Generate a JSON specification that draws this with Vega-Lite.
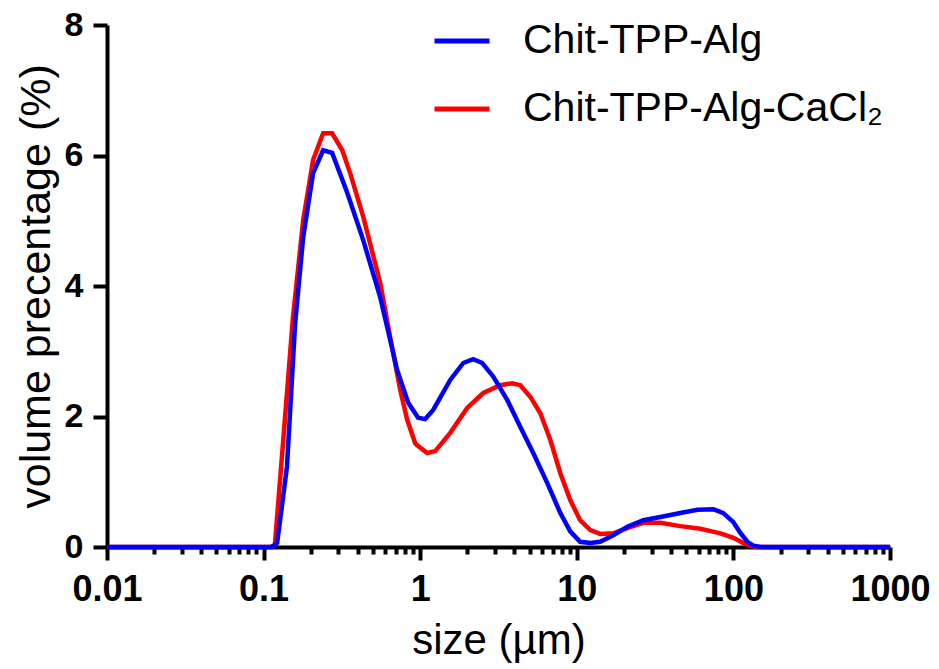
{
  "$schema": "https://vega.github.io/schema/vega-lite/v6.json",
  "autosize": "none",
  "width": 783,
  "height": 522,
  "padding": {"left": 107, "top": 25, "right": 49, "bottom": 122},
  "background": "white",
  "config": {"view": {"stroke": null}, "font": "Liberation Sans"},
  "datasets": {
    "curves": [
      {"size": 0.01, "vol": 0, "sample": "Chit-TPP-Alg"},
      {"size": 0.113, "vol": 0, "sample": "Chit-TPP-Alg"},
      {"size": 0.122, "vol": 0.06, "sample": "Chit-TPP-Alg"},
      {"size": 0.141, "vol": 1.23, "sample": "Chit-TPP-Alg"},
      {"size": 0.159, "vol": 3.43, "sample": "Chit-TPP-Alg"},
      {"size": 0.179, "vol": 4.75, "sample": "Chit-TPP-Alg"},
      {"size": 0.207, "vol": 5.73, "sample": "Chit-TPP-Alg"},
      {"size": 0.24, "vol": 6.08, "sample": "Chit-TPP-Alg"},
      {"size": 0.274, "vol": 6.04, "sample": "Chit-TPP-Alg"},
      {"size": 0.342, "vol": 5.43, "sample": "Chit-TPP-Alg"},
      {"size": 0.433, "vol": 4.7, "sample": "Chit-TPP-Alg"},
      {"size": 0.555, "vol": 3.83, "sample": "Chit-TPP-Alg"},
      {"size": 0.713, "vol": 2.71, "sample": "Chit-TPP-Alg"},
      {"size": 0.838, "vol": 2.21, "sample": "Chit-TPP-Alg"},
      {"size": 0.97, "vol": 1.98, "sample": "Chit-TPP-Alg"},
      {"size": 1.076, "vol": 1.96, "sample": "Chit-TPP-Alg"},
      {"size": 1.211, "vol": 2.1, "sample": "Chit-TPP-Alg"},
      {"size": 1.555, "vol": 2.56, "sample": "Chit-TPP-Alg"},
      {"size": 1.884, "vol": 2.82, "sample": "Chit-TPP-Alg"},
      {"size": 2.18, "vol": 2.88, "sample": "Chit-TPP-Alg"},
      {"size": 2.49, "vol": 2.82, "sample": "Chit-TPP-Alg"},
      {"size": 2.93, "vol": 2.61, "sample": "Chit-TPP-Alg"},
      {"size": 3.6, "vol": 2.25, "sample": "Chit-TPP-Alg"},
      {"size": 4.36, "vol": 1.84, "sample": "Chit-TPP-Alg"},
      {"size": 5.27, "vol": 1.44, "sample": "Chit-TPP-Alg"},
      {"size": 6.48, "vol": 0.98, "sample": "Chit-TPP-Alg"},
      {"size": 7.85, "vol": 0.52, "sample": "Chit-TPP-Alg"},
      {"size": 9.08, "vol": 0.24, "sample": "Chit-TPP-Alg"},
      {"size": 10.5, "vol": 0.08, "sample": "Chit-TPP-Alg"},
      {"size": 12.2, "vol": 0.06, "sample": "Chit-TPP-Alg"},
      {"size": 14.1, "vol": 0.08, "sample": "Chit-TPP-Alg"},
      {"size": 17.1, "vol": 0.18, "sample": "Chit-TPP-Alg"},
      {"size": 21.0, "vol": 0.31, "sample": "Chit-TPP-Alg"},
      {"size": 26.6, "vol": 0.41, "sample": "Chit-TPP-Alg"},
      {"size": 34.2, "vol": 0.46, "sample": "Chit-TPP-Alg"},
      {"size": 45.8, "vol": 0.52, "sample": "Chit-TPP-Alg"},
      {"size": 58.9, "vol": 0.57, "sample": "Chit-TPP-Alg"},
      {"size": 74.5, "vol": 0.58, "sample": "Chit-TPP-Alg"},
      {"size": 86.3, "vol": 0.52, "sample": "Chit-TPP-Alg"},
      {"size": 100, "vol": 0.38, "sample": "Chit-TPP-Alg"},
      {"size": 111, "vol": 0.21, "sample": "Chit-TPP-Alg"},
      {"size": 123, "vol": 0.08, "sample": "Chit-TPP-Alg"},
      {"size": 134, "vol": 0.02, "sample": "Chit-TPP-Alg"},
      {"size": 150, "vol": 0, "sample": "Chit-TPP-Alg"},
      {"size": 1000, "vol": 0, "sample": "Chit-TPP-Alg"},
      {"size": 0.01, "vol": 0, "sample": "Chit-TPP-Alg-CaCl₂"},
      {"size": 0.11, "vol": 0, "sample": "Chit-TPP-Alg-CaCl₂"},
      {"size": 0.118, "vol": 0.03, "sample": "Chit-TPP-Alg-CaCl₂"},
      {"size": 0.133, "vol": 1.59, "sample": "Chit-TPP-Alg-CaCl₂"},
      {"size": 0.154, "vol": 3.52, "sample": "Chit-TPP-Alg-CaCl₂"},
      {"size": 0.179, "vol": 5.01, "sample": "Chit-TPP-Alg-CaCl₂"},
      {"size": 0.207, "vol": 5.93, "sample": "Chit-TPP-Alg-CaCl₂"},
      {"size": 0.24, "vol": 6.34, "sample": "Chit-TPP-Alg-CaCl₂"},
      {"size": 0.274, "vol": 6.34, "sample": "Chit-TPP-Alg-CaCl₂"},
      {"size": 0.318, "vol": 6.08, "sample": "Chit-TPP-Alg-CaCl₂"},
      {"size": 0.357, "vol": 5.73, "sample": "Chit-TPP-Alg-CaCl₂"},
      {"size": 0.433, "vol": 5.06, "sample": "Chit-TPP-Alg-CaCl₂"},
      {"size": 0.555, "vol": 4.05, "sample": "Chit-TPP-Alg-CaCl₂"},
      {"size": 0.643, "vol": 3.22, "sample": "Chit-TPP-Alg-CaCl₂"},
      {"size": 0.745, "vol": 2.41, "sample": "Chit-TPP-Alg-CaCl₂"},
      {"size": 0.826, "vol": 1.95, "sample": "Chit-TPP-Alg-CaCl₂"},
      {"size": 0.929, "vol": 1.59, "sample": "Chit-TPP-Alg-CaCl₂"},
      {"size": 0.957, "vol": 1.56, "sample": "Chit-TPP-Alg-CaCl₂"},
      {"size": 1.109, "vol": 1.44, "sample": "Chit-TPP-Alg-CaCl₂"},
      {"size": 1.247, "vol": 1.47, "sample": "Chit-TPP-Alg-CaCl₂"},
      {"size": 1.555, "vol": 1.75, "sample": "Chit-TPP-Alg-CaCl₂"},
      {"size": 1.995, "vol": 2.13, "sample": "Chit-TPP-Alg-CaCl₂"},
      {"size": 2.53, "vol": 2.36, "sample": "Chit-TPP-Alg-CaCl₂"},
      {"size": 3.24, "vol": 2.48, "sample": "Chit-TPP-Alg-CaCl₂"},
      {"size": 3.87, "vol": 2.51, "sample": "Chit-TPP-Alg-CaCl₂"},
      {"size": 4.36, "vol": 2.48, "sample": "Chit-TPP-Alg-CaCl₂"},
      {"size": 5.05, "vol": 2.3, "sample": "Chit-TPP-Alg-CaCl₂"},
      {"size": 5.85, "vol": 2.05, "sample": "Chit-TPP-Alg-CaCl₂"},
      {"size": 6.78, "vol": 1.64, "sample": "Chit-TPP-Alg-CaCl₂"},
      {"size": 7.85, "vol": 1.13, "sample": "Chit-TPP-Alg-CaCl₂"},
      {"size": 9.08, "vol": 0.72, "sample": "Chit-TPP-Alg-CaCl₂"},
      {"size": 10.5, "vol": 0.41, "sample": "Chit-TPP-Alg-CaCl₂"},
      {"size": 12.2, "vol": 0.26, "sample": "Chit-TPP-Alg-CaCl₂"},
      {"size": 14.1, "vol": 0.2, "sample": "Chit-TPP-Alg-CaCl₂"},
      {"size": 17.1, "vol": 0.21, "sample": "Chit-TPP-Alg-CaCl₂"},
      {"size": 21.0, "vol": 0.29, "sample": "Chit-TPP-Alg-CaCl₂"},
      {"size": 26.6, "vol": 0.37, "sample": "Chit-TPP-Alg-CaCl₂"},
      {"size": 34.2, "vol": 0.37, "sample": "Chit-TPP-Alg-CaCl₂"},
      {"size": 45.8, "vol": 0.32, "sample": "Chit-TPP-Alg-CaCl₂"},
      {"size": 61.5, "vol": 0.28, "sample": "Chit-TPP-Alg-CaCl₂"},
      {"size": 82.6, "vol": 0.21, "sample": "Chit-TPP-Alg-CaCl₂"},
      {"size": 100, "vol": 0.14, "sample": "Chit-TPP-Alg-CaCl₂"},
      {"size": 116, "vol": 0.06, "sample": "Chit-TPP-Alg-CaCl₂"},
      {"size": 128, "vol": 0.02, "sample": "Chit-TPP-Alg-CaCl₂"},
      {"size": 140, "vol": 0, "sample": "Chit-TPP-Alg-CaCl₂"},
      {"size": 1000, "vol": 0, "sample": "Chit-TPP-Alg-CaCl₂"}
    ]
  },
  "data": {"name": "curves"},
  "encoding": {
    "x": {
      "field": "size", "type": "quantitative",
      "scale": {"type": "log", "domain": [0.01, 1000], "nice": false},
      "axis": {
        "title": "size (µm)",
        "values": [0.01,0.02,0.03,0.04,0.05,0.06,0.07,0.08,0.09,0.1,0.2,0.3,0.4,0.5,0.6,0.7,0.8,0.9,1,2,3,4,5,6,7,8,9,10,20,30,40,50,60,70,80,90,100,200,300,400,500,600,700,800,900,1000],
        "labelExpr": "abs(log(datum.value)/LN10 - round(log(datum.value)/LN10)) < 0.000001 ? format(datum.value, '~g') : ''",
        "labelOverlap": false,
        "labelBound": false,
        "labelFlush": false,
        "labelFont": "Liberation Sans",
        "labelFontSize": 36,
        "labelFontWeight": "bold",
        "labelColor": "black",
        "labelPadding": 12,
        "tickSize": {"condition": {"test": "abs(log(datum.value)/LN10 - round(log(datum.value)/LN10)) < 0.000001", "value": 13}, "value": 7},
        "tickWidth": 4,
        "tickColor": "black",
        "domainColor": "black",
        "domainWidth": 4,
        "grid": false,
        "titleFont": "Liberation Sans",
        "titleFontSize": 42,
        "titleFontWeight": "normal",
        "titleColor": "black",
        "titlePadding": 13
      }
    },
    "y": {
      "field": "vol", "type": "quantitative",
      "scale": {"domain": [0, 8], "nice": false},
      "axis": {
        "title": "volume precentage (%)",
        "values": [0, 2, 4, 6, 8],
        "labelFont": "Liberation Sans",
        "labelFontSize": 34,
        "labelFontWeight": "bold",
        "labelColor": "black",
        "labelPadding": 10,
        "tickSize": 14,
        "tickWidth": 4,
        "tickColor": "black",
        "domainColor": "black",
        "domainWidth": 4,
        "grid": false,
        "titleFont": "Liberation Sans",
        "titleFontSize": 43,
        "titleFontWeight": "normal",
        "titleColor": "black",
        "titlePadding": 6
      }
    },
    "color": {
      "field": "sample", "type": "nominal",
      "scale": {"domain": ["Chit-TPP-Alg", "Chit-TPP-Alg-CaCl₂"], "range": ["#0000ff", "#ff0000"]},
      "legend": {
        "title": null,
        "orient": "none",
        "legendX": 325,
        "legendY": -14,
        "symbolType": "stroke",
        "symbolSize": 3025,
        "symbolStrokeWidth": 5,
        "labelFont": "Liberation Sans",
        "labelFontSize": 41,
        "labelColor": "black",
        "labelOffset": 31,
        "rowPadding": 18,
        "labelLimit": 600
      }
    }
  },
  "layer": [
    {"transform": [{"filter": "datum.sample === 'Chit-TPP-Alg-CaCl₂'"}], "mark": {"type": "line", "strokeWidth": 4.5}},
    {"transform": [{"filter": "datum.sample === 'Chit-TPP-Alg'"}], "mark": {"type": "line", "strokeWidth": 4.5}}
  ]
}
